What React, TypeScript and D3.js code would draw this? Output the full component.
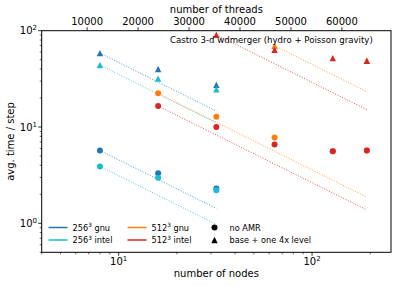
import React from "react";
import * as d3 from "d3";

// ---- data ----
const gnu256CircN = [8, 16, 32];
const gnu256CircT = [5.7, 3.3, 2.3];
const intel256CircN = [8, 16, 32];
const intel256CircT = [3.9, 2.97, 2.2];
const gnu256TriN = [8, 16, 32];
const gnu256TriT = [58.5, 40, 27.4];
const intel256TriN = [8, 16, 32];
const intel256TriT = [44, 31.8, 24.7];
const gnu512CircN = [16, 32, 64, 128, 192];
const gnu512CircT = [22.4, 12.8, 7.8, 5.6, 5.7];
const intel512CircN = [16, 32, 64, 128, 192];
const intel512CircT = [16.5, 10, 6.6, 5.6, 5.7];
const gnu512TriN = [64, 192];
const gnu512TriT = [69.8, 48.7];
const intel512TriN = [32, 64, 128, 192];
const intel512TriT = [90.8, 63.4, 51.9, 48.6];

const threadTicks = [10000, 20000, 30000, 40000, 50000, 60000];
const threadsPerNode = 272;

const seriesLabels = ["256", "256", "512", "512"];
const seriesSuffix = [" gnu", " intel", " gnu", " intel"];
const seriesColors = ["#1f77b4", "#17becf", "#ff7f0e", "#d62728"];

const W = 399, H = 286;
const L = 41.7, R = 391, T = 30.7, B = 252.3;
const FONT = "DejaVu Sans, sans-serif";

export default function App() {
  const x = d3.scaleLog().domain([4, 256]).range([L, R]);
  const y = d3.scaleLog().domain([0.5, 100]).range([B, T]);
  const xTop = d3.scaleLinear().domain([4 * threadsPerNode, 256 * threadsPerNode]).range([L, R]);

  const groups = [
    { n: gnu256CircN, t: gnu256CircT, c: seriesColors[0], m: "o" },
    { n: gnu256TriN, t: gnu256TriT, c: seriesColors[0], m: "^" },
    { n: intel256CircN, t: intel256CircT, c: seriesColors[1], m: "o" },
    { n: intel256TriN, t: intel256TriT, c: seriesColors[1], m: "^" },
    { n: gnu512CircN, t: gnu512CircT, c: seriesColors[2], m: "o" },
    { n: gnu512TriN, t: gnu512TriT, c: seriesColors[2], m: "^" },
    { n: intel512CircN, t: intel512CircT, c: seriesColors[3], m: "o" },
    { n: intel512TriN, t: intel512TriT, c: seriesColors[3], m: "^" },
  ];

  const line = d3.line<[number, number]>().x((d) => x(d[0])).y((d) => y(d[1]));

  const tri = (cx: number, cy: number, s = 3.2) =>
    `M${cx},${cy - s}L${cx - s},${cy + s}L${cx + s},${cy + s}Z`;

  const xMajor = [10, 100];
  const xMinor: number[] = [];
  [1, 10, 100].forEach((d) => {
    for (let k = 2; k <= 9; k++) {
      const v = k * d;
      if (v >= 4 && v <= 256 && v !== 10 && v !== 100) xMinor.push(v);
    }
  });
  const yMajor = [1, 10, 100];
  const yMinor: number[] = [];
  [0.1, 1, 10].forEach((d) => {
    for (let k = 2; k <= 9; k++) {
      const v = k * d;
      if (v >= 0.5 && v <= 100) yMinor.push(v);
    }
  });

  const clipId = "plotclip";

  return (
    <svg width={W} height={H} style={{ position: "absolute", left: 0, top: 0, background: "#fff" }} fontFamily={FONT}>
      <defs>
        <clipPath id={clipId}>
          <rect x={L} y={T} width={R - L} height={B - T} />
        </clipPath>
      </defs>
      <rect x={0} y={0} width={W} height={H} fill="#fff" />

      {/* ideal scaling lines */}
      <g clipPath={`url(#${clipId})`}>
        {groups.map((g, i) => {
          const n0 = g.n[0], t0 = g.t[0], n1 = g.n[g.n.length - 1];
          const pts: [number, number][] = [[n0, t0], [n1, (t0 * n0) / n1]];
          return (
            <path key={i} d={line(pts) || ""} fill="none" stroke={g.c} strokeWidth={1}
              strokeOpacity={0.8} strokeDasharray="1,1.65" />
          );
        })}
      </g>

      {/* points */}
      <g>
        {groups.map((g, i) =>
          g.n.map((n, j) =>
            g.m === "o" ? (
              <circle key={`${i}-${j}`} cx={x(n)} cy={y(g.t[j])} r={3} fill={g.c} />
            ) : (
              <path key={`${i}-${j}`} d={tri(x(n), y(g.t[j]))} fill={g.c} />
            )
          )
        )}
      </g>

      {/* title */}
      <text x={170} y={43} fontSize={8.6} fill="#000">Castro 3-d wdmerger (hydro + Poisson gravity)</text>

      {/* spines */}
      <rect x={L} y={T} width={R - L} height={B - T} fill="none" stroke="#000" strokeWidth={1} />

      {/* bottom axis */}
      {xMajor.map((v) => (
        <g key={`xm${v}`}>
          <line x1={x(v)} x2={x(v)} y1={B} y2={B + 3.5} stroke="#000" strokeWidth={0.8} />
          <text x={x(v)} y={265} fontSize={10} textAnchor="middle">
            10<tspan fontSize={7} dy={-4}>{v === 10 ? "1" : "2"}</tspan>
          </text>
        </g>
      ))}
      {xMinor.map((v) => (
        <line key={`xn${v}`} x1={x(v)} x2={x(v)} y1={B} y2={B + 2} stroke="#000" strokeWidth={0.6} />
      ))}
      <text x={(L + R) / 2} y={277} fontSize={10} textAnchor="middle">number of nodes</text>

      {/* left axis */}
      {yMajor.map((v) => (
        <g key={`ym${v}`}>
          <line x1={L - 3.5} x2={L} y1={y(v)} y2={y(v)} stroke="#000" strokeWidth={0.8} />
          <text x={37} y={y(v) + 3.5} fontSize={10} textAnchor="end">
            10<tspan fontSize={7} dy={-4}>{v === 1 ? "0" : v === 10 ? "1" : "2"}</tspan>
          </text>
        </g>
      ))}
      {yMinor.map((v) => (
        <line key={`yn${v}`} x1={L - 2} x2={L} y1={y(v)} y2={y(v)} stroke="#000" strokeWidth={0.6} />
      ))}
      <text transform={`translate(13.5,${(T + B) / 2}) rotate(-90)`} fontSize={10} textAnchor="middle">
        avg. time / step
      </text>

      {/* top axis */}
      {threadTicks.map((v) => (
        <g key={`tt${v}`}>
          <line x1={xTop(v)} x2={xTop(v)} y1={T} y2={T - 3.5} stroke="#000" strokeWidth={0.8} />
          <text x={xTop(v)} y={25} fontSize={10} textAnchor="middle">{v}</text>
        </g>
      ))}
      <text x={(L + R) / 2} y={13} fontSize={10} textAnchor="middle">number of threads</text>

      {/* legend: series */}
      {seriesLabels.map((lab, i) => {
        const col = Math.floor(i / 2);
        const row = i % 2;
        const lx = col === 0 ? 48.5 : 127.5;
        const ly = row === 0 ? 227.5 : 240;
        return (
          <g key={`lg${i}`}>
            <line x1={lx} x2={lx + 19} y1={ly} y2={ly} stroke={seriesColors[i]} strokeWidth={1.5} />
            <text x={lx + 24} y={ly + 3} fontSize={8.2}>
              {lab}
              <tspan fontSize={5.8} dy={-3.5}>3</tspan>
              <tspan dy={3.5}>{seriesSuffix[i]}</tspan>
            </text>
          </g>
        );
      })}

      {/* legend: markers */}
      <circle cx={214.5} cy={227.5} r={3} fill="#000" />
      <text x={229.5} y={230.5} fontSize={8.2}>no AMR</text>
      <path d={tri(214.5, 240)} fill="#000" />
      <text x={229.5} y={243} fontSize={8.2}>base + one 4x level</text>
    </svg>
  );
}
